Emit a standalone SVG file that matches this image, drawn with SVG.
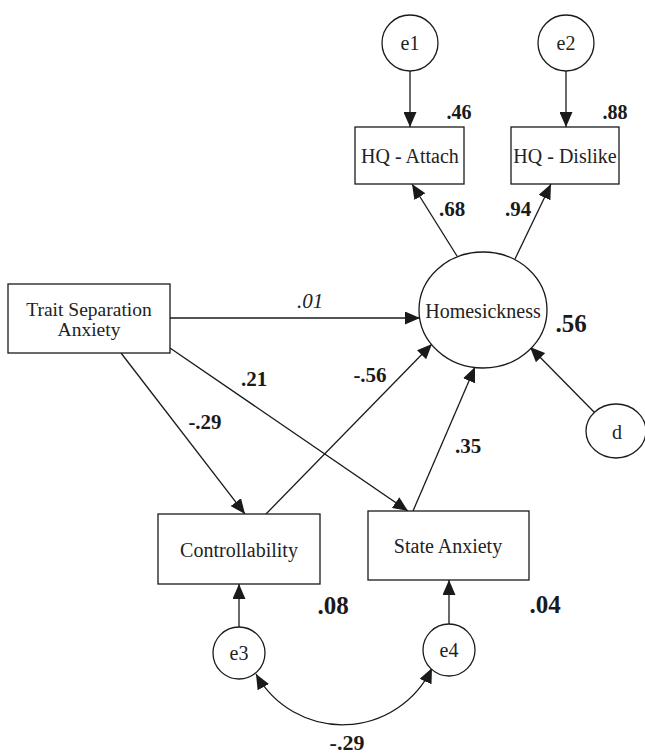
<svg xmlns="http://www.w3.org/2000/svg" width="645" height="756" viewBox="0 0 645 756">
<defs>
<marker id="ah" markerUnits="userSpaceOnUse" viewBox="0 0 15 13" refX="15" refY="6.5" markerWidth="15" markerHeight="13" orient="auto-start-reverse">
<path d="M0,0 L15,6.5 L0,13 z" fill="#1a1a1a"/>
</marker>
<style>
text{font-family:'Liberation Serif','Times New Roman',Times,'DejaVu Serif',serif}
.n{fill:#fff;stroke:#1a1a1a;stroke-width:1.3}
.t{font-size:20px;fill:#222;text-anchor:middle}
.c line,.c path{stroke:#1a1a1a;stroke-width:1.3;fill:none;marker-end:url(#ah)}
.b{font-weight:bold;font-size:21px;fill:#1a1a1a;text-anchor:middle}
.bb{font-size:25px}
.i{font-style:italic;font-size:21px;fill:#222;text-anchor:middle}
</style>
</defs>
<rect width="645" height="756" fill="#fff"/>
<g class="c" id="connectors">
<line x1="410" y1="71" x2="410" y2="127"/>
<line x1="566" y1="71" x2="566" y2="127"/>
<line x1="457" y1="256" x2="412" y2="184"/>
<line x1="515" y1="259" x2="551" y2="184"/>
<line x1="170" y1="318" x2="420" y2="318"/>
<line x1="121" y1="353" x2="245" y2="514"/>
<line x1="170" y1="348" x2="408" y2="511"/>
<line x1="266" y1="514" x2="432" y2="344"/>
<line x1="413" y1="511" x2="475" y2="367"/>
<line x1="595" y1="413" x2="530" y2="347"/>
<line x1="239" y1="627" x2="239" y2="584"/>
<line x1="449" y1="624" x2="449" y2="580"/>
<path d="M256,674 A99,99 0 0 0 432,668" style="marker-start:url(#ah)"/>
</g>
<g id="e1"><circle class="n" cx="410" cy="43" r="28"/><text class="t" x="410" y="50">e1</text></g>
<g id="e2"><circle class="n" cx="566" cy="43" r="28"/><text class="t" x="566" y="50">e2</text></g>
<g id="hq-attach"><rect class="n" x="355" y="127" width="109" height="57"/><text class="t" x="410" y="163">HQ - Attach</text></g>
<g id="hq-dislike"><rect class="n" x="511" y="127" width="108" height="57"/><text class="t" x="565" y="163">HQ - Dislike</text></g>
<g id="homesickness"><ellipse class="n" cx="483" cy="310" rx="64" ry="58"/><text class="t" x="483" y="318">Homesickness</text></g>
<g id="d"><ellipse class="n" cx="616" cy="431" rx="30" ry="27"/><text class="t" x="617" y="439">d</text></g>
<g id="trait"><rect class="n" x="8" y="284" width="162" height="69"/><text class="t" x="89" y="316" style="font-size:19.5px">Trait Separation</text><text class="t" x="89" y="336" style="font-size:19.5px">Anxiety</text></g>
<g id="controllability"><rect class="n" x="158" y="514" width="162" height="70"/><text class="t" x="239" y="557">Controllability</text></g>
<g id="state-anxiety"><rect class="n" x="368" y="511" width="161" height="69"/><text class="t" x="448" y="553">State Anxiety</text></g>
<g id="e3"><circle class="n" cx="239" cy="653" r="26"/><text class="t" x="239" y="660">e3</text></g>
<g id="e4"><circle class="n" cx="449" cy="650" r="26"/><text class="t" x="449" y="657">e4</text></g>
<g id="labels">
<text class="b" x="459" y="119" style="font-size:20px">.46</text>
<text class="b" x="615" y="119" style="font-size:20px">.88</text>
<text class="b" x="452" y="216">.68</text>
<text class="b" x="518" y="216">.94</text>
<text class="i" x="310" y="308">.01</text>
<text class="b bb" x="571" y="332">.56</text>
<text class="b" x="254" y="386">.21</text>
<text class="b" x="205" y="429">-.29</text>
<text class="b" x="370" y="382">-.56</text>
<text class="b" x="468" y="453">.35</text>
<text class="b bb" x="333" y="614">.08</text>
<text class="b bb" x="545" y="613">.04</text>
<text class="b" x="347" y="750" style="font-size:22px">-.29</text>
</g>
</svg>
